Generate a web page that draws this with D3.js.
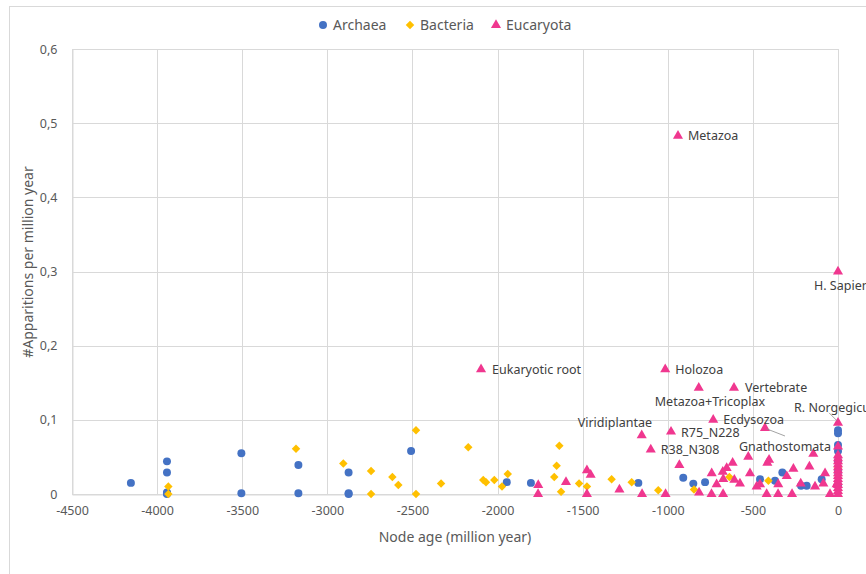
<!DOCTYPE html>
<html>
<head>
<meta charset="utf-8">
<script src="https://cdn.jsdelivr.net/npm/d3@7"></script>
<style>
  body { margin: 0; background: #fff; }
  text { font-family: "Noto Sans", "Open Sans", sans-serif; }
</style>
</head>
<body>
<svg></svg>
<script>
var width = 866;
var height = 574;

var margin = { top: 49, right: 28, bottom: 80, left: 72 };

// [node age, apparitions per million year]
var archaea = [
  [-4154, 0.015], [-3942, 0.044], [-3942, 0.029], [-3942, 0.002], [-3942, 0.001], [-3942, 0.0],
  [-3505, 0.055], [-3505, 0.001], [-3170, 0.039], [-3170, 0.001], [-2875, 0.029], [-2875, 0.001],
  [-2875, 0.0], [-2508, 0.058], [-1946, 0.016], [-1804, 0.015], [-1173, 0.015], [-909, 0.022],
  [-850, 0.014], [-781, 0.016], [-458, 0.020], [-370, 0.018], [-327, 0.029], [-217, 0.011],
  [-184, 0.011], [-96, 0.020], [0, 0.086], [0, 0.082], [0, 0.066], [0, 0.058], [0, 0.045],
  [0, 0.030], [0, 0.012]
];

var bacteria = [
  [-3934, 0.010], [-3934, 0.0], [-3184, 0.061], [-2906, 0.041], [-2743, 0.031], [-2743, 0.0],
  [-2618, 0.023], [-2583, 0.012], [-2479, 0.086], [-2479, 0.0], [-2332, 0.014], [-2172, 0.063],
  [-2084, 0.019], [-2068, 0.016], [-2019, 0.019], [-1974, 0.010], [-1940, 0.027], [-1667, 0.023],
  [-1653, 0.038], [-1637, 0.065], [-1627, 0.003], [-1521, 0.014], [-1475, 0.010], [-1330, 0.020],
  [-1212, 0.016], [-1056, 0.005], [-846, 0.006], [-638, 0.023], [-409, 0.018], [0, 0.035], [0, 0.022]
];

var eucaryota = [
  [-2097, 0.168], [-940, 0.483], [0, 0.300], [-1015, 0.168], [-818, 0.143], [-611, 0.143],
  [-733, 0.100], [-1153, 0.079], [-981, 0.084], [-1100, 0.060], [-429, 0.089], [0, 0.096],
  [-1761, 0.012], [-1762, 0.0], [-1598, 0.016], [-1475, 0.032], [-1453, 0.026], [-1475, 0.0],
  [-1284, 0.006], [-1151, 0.0], [-1013, 0.0], [-932, 0.039], [-816, 0.002], [-743, 0.0],
  [-742, 0.028], [-713, 0.013], [-677, 0.030], [-654, 0.035], [-619, 0.042], [-674, 0.020],
  [-675, 0.0], [-609, 0.019], [-576, 0.014], [-527, 0.050], [-517, 0.028], [-478, 0.010],
  [-458, 0.013], [-415, 0.042], [-405, 0.046], [-419, 0.0], [-351, 0.013], [-352, 0.0],
  [-301, 0.024], [-262, 0.034], [-270, 0.0], [-219, 0.014], [-168, 0.037], [-145, 0.054],
  [-135, 0.010], [-86, 0.014], [-76, 0.028], [-47, 0.0], [-8, 0.013],
  [0, 0.064], [0, 0.052], [0, 0.048], [0, 0.044], [0, 0.040], [0, 0.036], [0, 0.032], [0, 0.028],
  [0, 0.024], [0, 0.020], [0, 0.016], [0, 0.012], [0, 0.008], [0, 0.004], [0, 0.0]
];

// annotated eucaryota nodes
var labelNames = ["Eukaryotic root", "Metazoa", "H. Sapiens", "Holozoa", "Metazoa+Tricoplax", "Vertebrate",
  "Ecdysozoa", "Viridiplantae", "R75_N228", "R38_N308", "Gnathostomata", "R. Norgegicus"];
var labelAge = [-2097, -940, 0, -1015, -818, -611, -733, -1153, -981, -1100, -429, 0];
var labelRate = [0.168, 0.483, 0.300, 0.168, 0.143, 0.143, 0.100, 0.079, 0.084, 0.060, 0.089, 0.096];

var xTicks = [-4500, -4000, -3500, -3000, -2500, -2000, -1500, -1000, -500, 0];
var yTicks = [0, 0.1, 0.2, 0.3, 0.4, 0.5, 0.6];

var seriesNames = ["Archaea", "Bacteria", "Eucaryota"];
var seriesColors = ["#4472C4", "#FFC000", "#F0378F"];

// label placement offsets (px) from the point
var labelDx = [11, 10, -24, 10, -44, 11, 10, -64, 10, 10, -26, -44];
var labelDy = [0, 0, 14, 0, 14, 0, 0, -13, 1, 0, 19, -15];

var svg = d3.select("svg")
  .attr("width", width)
  .attr("height", height);

svg.append("rect")
  .attr("x", 9.5).attr("y", 6.5)
  .attr("width", 900).attr("height", 600)
  .attr("fill", "#fff")
  .attr("stroke", "#d9d9d9");

var x = d3.scaleLinear().domain([-4500, 0]).range([margin.left, width - margin.right]);
var y = d3.scaleLinear().domain([0, 0.6]).range([height - margin.bottom, margin.top]);

var fmt = function(d) { return d === 0 ? "0" : d3.format(".1f")(d).replace(".", ","); };

// gridlines
var grid = svg.append("g");
grid.selectAll(".hg").data(yTicks).enter().append("line")
  .attr("x1", x(-4500)).attr("x2", x(0))
  .attr("y1", function(d) { return Math.round(y(d)) + 0.5; })
  .attr("y2", function(d) { return Math.round(y(d)) + 0.5; })
  .attr("stroke", "#d9d9d9");
grid.selectAll(".vg").data(xTicks).enter().append("line")
  .attr("x1", function(d) { return Math.round(x(d)) + 0.5; })
  .attr("x2", function(d) { return Math.round(x(d)) + 0.5; })
  .attr("y1", y(0)).attr("y2", y(0.6))
  .attr("stroke", "#d9d9d9");

// axes
var xAxis = svg.append("g")
  .attr("transform", "translate(0," + (Math.round(y(0)) + 0.5) + ")")
  .call(d3.axisBottom(x).tickValues(xTicks).tickFormat(function(d) { return String(d); })
    .tickSize(0).tickPadding(12));
var yAxis = svg.append("g")
  .attr("transform", "translate(" + (Math.round(x(-4500)) + 0.5) + ",0)")
  .call(d3.axisLeft(y).tickValues(yTicks).tickFormat(fmt).tickSize(0).tickPadding(15));
[xAxis, yAxis].forEach(function(a) {
  a.select(".domain").attr("stroke", "#d9d9d9");
  a.selectAll("text").attr("fill", "#595959").style("font-size", "12.5px")
    .style("font-family", "'Noto Sans', sans-serif");
});

svg.append("text")
  .attr("x", (x(-4500) + x(0)) / 2).attr("y", 542)
  .attr("text-anchor", "middle").attr("fill", "#595959").style("font-size", "14px")
  .text("Node age (million year)");
svg.append("text")
  .attr("transform", "translate(33," + 262 + ") rotate(-90)")
  .attr("text-anchor", "middle").attr("fill", "#595959").style("font-size", "14px")
  .text("#Apparitions per million year");

var shapes = [
  d3.symbol().type(d3.symbolCircle).size(50),
  d3.symbol().type(d3.symbolSquare).size(36),
  d3.symbol().type(d3.symbolTriangle).size(44)
];
var rotations = [0, 45, 0];

var plot = svg.append("g");
[archaea, bacteria, eucaryota].forEach(function(data, i) {
  plot.selectAll(".s" + i).data(data).enter().append("path")
    .attr("class", "s" + i)
    .attr("d", shapes[i])
    .attr("transform", function(d) {
      return "translate(" + x(d[0]) + "," + y(d[1]) + ") rotate(" + rotations[i] + ")";
    })
    .attr("fill", seriesColors[i]);
});

// leader lines
svg.append("line")
  .attr("x1", x(-429) + 2).attr("y1", y(0.089) + 1)
  .attr("x2", x(-429) + 20).attr("y2", y(0.089) + 8)
  .attr("stroke", "#8c8c8c").attr("stroke-width", 0.8);
svg.append("line")
  .attr("x1", x(0) - 9).attr("y1", y(0.096) - 10)
  .attr("x2", x(0) - 1).attr("y2", y(0.096) - 2)
  .attr("stroke", "#8c8c8c").attr("stroke-width", 0.8);

svg.selectAll(".lbl").data(labelNames).enter().append("text")
  .attr("class", "lbl")
  .attr("x", function(d, i) { return x(labelAge[i]) + labelDx[i]; })
  .attr("y", function(d, i) { return y(labelRate[i]) + labelDy[i]; })
  .attr("dy", "0.35em")
  .attr("fill", "#404040")
  .style("font-size", "12.5px")
  .text(function(d) { return d; });

// legend
var legendX = [323, 410, 496];
var legend = svg.append("g");
seriesNames.forEach(function(name, i) {
  legend.append("path")
    .attr("d", shapes[i])
    .attr("transform", "translate(" + legendX[i] + ",25) rotate(" + rotations[i] + ")")
    .attr("fill", seriesColors[i]);
  legend.append("text")
    .attr("x", legendX[i] + 10).attr("y", 25).attr("dy", "0.35em")
    .attr("fill", "#595959").style("font-size", "14px")
    .text(name);
});
</script>
</body>
</html>
